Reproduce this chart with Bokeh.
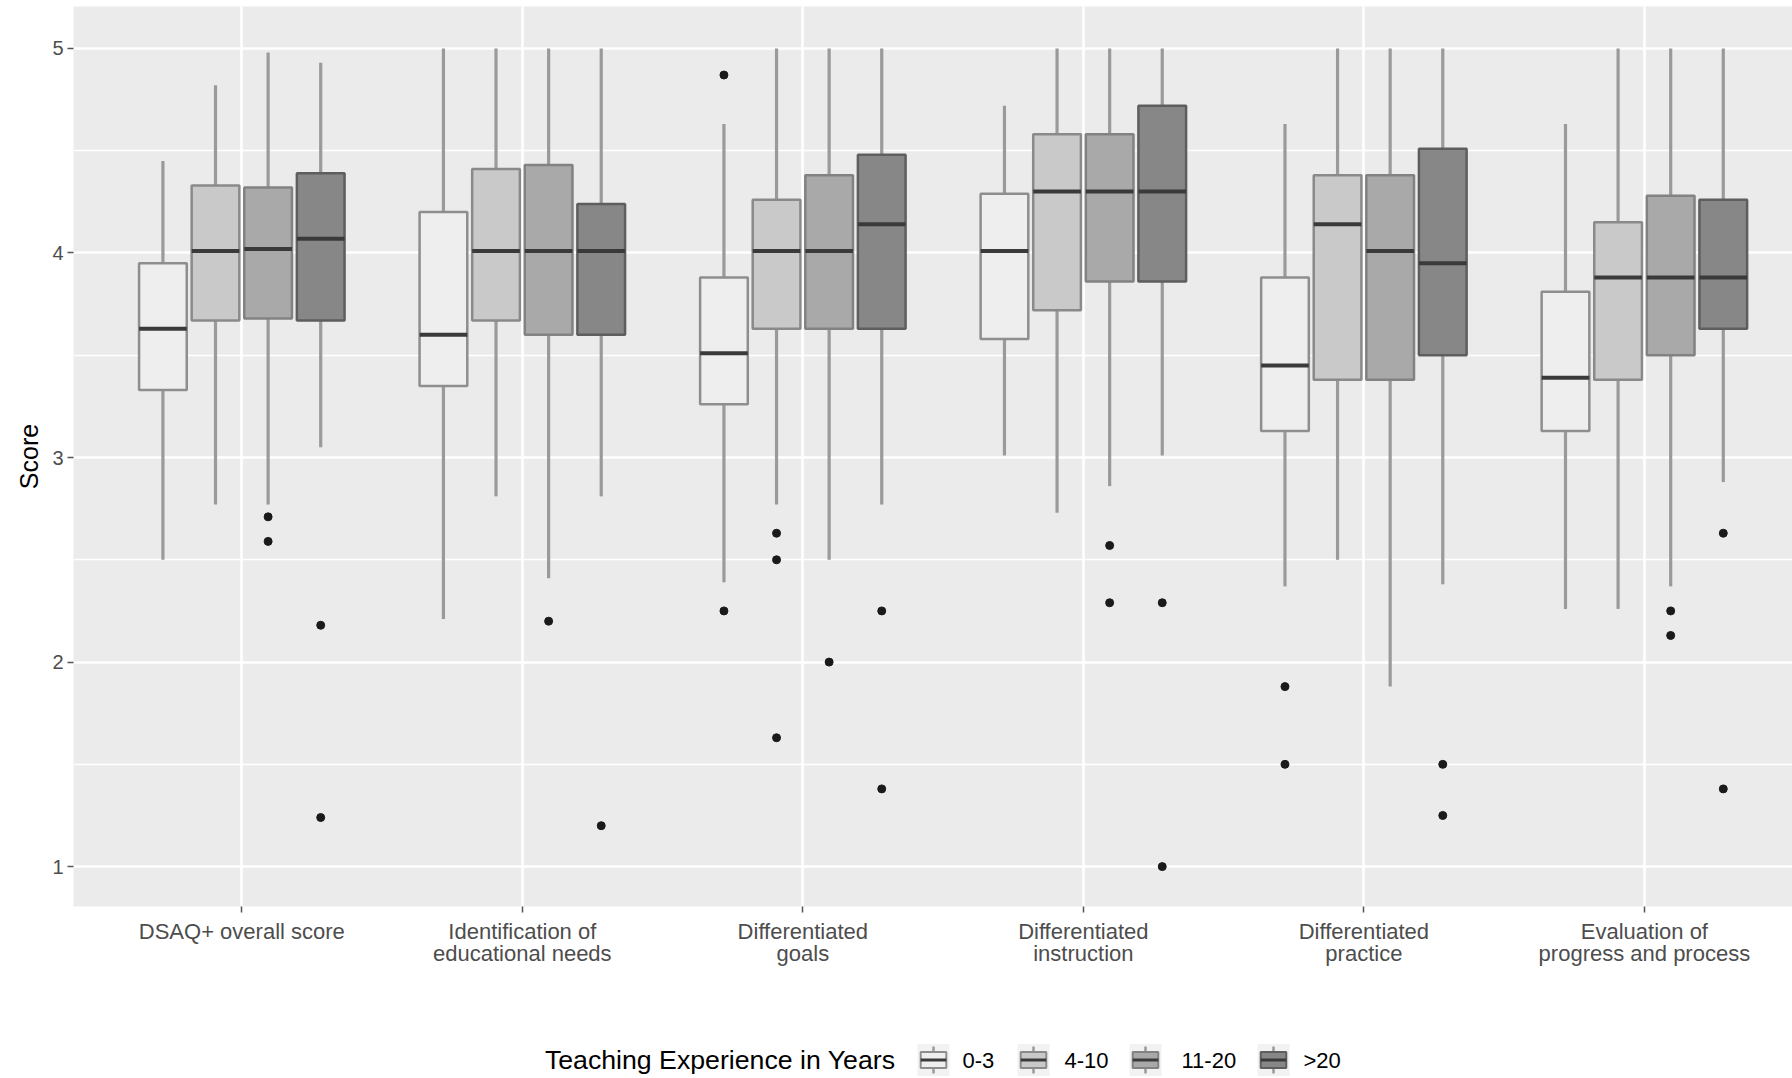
from bokeh.plotting import figure
from bokeh.models import FixedTicker, Range1d, ColumnDataSource
from bokeh.layouts import column
from bokeh.embed import file_html
from bokeh.resources import INLINE
from bokeh.core.properties import value

# ---------------- data ----------------
categories = ["DSAQ+ overall score",
              "Identification of\neducational needs",
              "Differentiated\ngoals",
              "Differentiated\ninstruction",
              "Differentiated\npractice",
              "Evaluation of\nprogress and process"]
groups = ["0-3", "4-10", "11-20", ">20"]

whisker_low = {
    "0-3":   [2.50, 2.21, 2.39, 3.01, 2.37, 2.26],
    "4-10":  [2.77, 2.81, 2.77, 2.73, 2.50, 2.26],
    "11-20": [2.77, 2.41, 2.50, 2.86, 1.88, 2.37],
    ">20":   [3.05, 2.81, 2.77, 3.01, 2.38, 2.88],
}
q1 = {
    "0-3":   [3.33, 3.35, 3.26, 3.58, 3.13, 3.13],
    "4-10":  [3.67, 3.67, 3.63, 3.72, 3.38, 3.38],
    "11-20": [3.68, 3.60, 3.63, 3.86, 3.38, 3.50],
    ">20":   [3.67, 3.60, 3.63, 3.86, 3.50, 3.63],
}
median = {
    "0-3":   [3.63, 3.60, 3.51, 4.01, 3.45, 3.39],
    "4-10":  [4.01, 4.01, 4.01, 4.30, 4.14, 3.88],
    "11-20": [4.02, 4.01, 4.01, 4.30, 4.01, 3.88],
    ">20":   [4.07, 4.01, 4.14, 4.30, 3.95, 3.88],
}
q3 = {
    "0-3":   [3.95, 4.20, 3.88, 4.29, 3.88, 3.81],
    "4-10":  [4.33, 4.41, 4.26, 4.58, 4.38, 4.15],
    "11-20": [4.32, 4.43, 4.38, 4.58, 4.38, 4.28],
    ">20":   [4.39, 4.24, 4.48, 4.72, 4.51, 4.26],
}
whisker_high = {
    "0-3":   [4.45, 5.00, 4.63, 4.72, 4.63, 4.63],
    "4-10":  [4.82, 5.00, 5.00, 5.00, 5.00, 5.00],
    "11-20": [4.98, 5.00, 5.00, 5.00, 5.00, 5.00],
    ">20":   [4.93, 5.00, 5.00, 5.00, 5.00, 5.00],
}
# outliers: category index, group name, value
outlier_cat   = [0, 0, 0, 0, 1, 1, 2, 2, 2, 2, 2, 2, 2, 2, 3, 3, 3, 3, 4, 4, 4, 4, 5, 5, 5, 5]
outlier_group = ["11-20", "11-20", ">20", ">20",
                 "11-20", ">20",
                 "0-3", "0-3", "4-10", "4-10", "4-10", "11-20", ">20", ">20",
                 "11-20", "11-20", ">20", ">20",
                 "0-3", "0-3", ">20", ">20",
                 "11-20", "11-20", ">20", ">20"]
outlier_value = [2.71, 2.59, 2.18, 1.24,
                 2.20, 1.20,
                 4.87, 2.25, 2.63, 2.50, 1.63, 2.00, 2.25, 1.38,
                 2.57, 2.29, 2.29, 1.00,
                 1.88, 1.50, 1.50, 1.25,
                 2.25, 2.13, 2.63, 1.38]
y_ticks = [1, 2, 3, 4, 5]

# ---------------- styles ----------------
fills = {"0-3": "#EEEEEE", "4-10": "#C9C9C9", "11-20": "#A9A9A9", ">20": "#878787"}
outlines = {"0-3": "#8E8E8E", "4-10": "#8A8A8A", "11-20": "#828282", ">20": "#5E5E5E"}
whisker_color = "#9A9A9A"
median_color = "#3A3A3A"
offsets = {"0-3": -0.28125, "4-10": -0.09375, "11-20": 0.09375, ">20": 0.28125}
box_w = 0.17
FONT = "Liberation Sans"
W = 1792
LEFT = 73

p = figure(width=W, height=1016,
           x_range=Range1d(0.4, 6.528), y_range=Range1d(0.805, 5.205),
           output_backend="svg", toolbar_location=None,
           min_border_left=LEFT, min_border_right=0, min_border_top=6, min_border_bottom=110)
p.background_fill_color = "#EBEBEB"
p.border_fill_color = "white"
p.outline_line_color = None

cat_pos = list(range(1, len(categories) + 1))
p.xaxis.ticker = FixedTicker(ticks=cat_pos)
p.xaxis.major_label_overrides = {c: lab for c, lab in zip(cat_pos, categories)}
p.yaxis.ticker = FixedTicker(ticks=y_ticks)
p.xgrid.ticker = FixedTicker(ticks=cat_pos)
p.ygrid.ticker = FixedTicker(ticks=y_ticks, minor_ticks=[1.5, 2.5, 3.5, 4.5])
for g in (p.xgrid, p.ygrid):
    g.grid_line_color = "white"
    g.grid_line_width = 2.6
p.ygrid.minor_grid_line_color = "white"
p.ygrid.minor_grid_line_width = 1.3

for ax in (p.xaxis, p.yaxis):
    ax.axis_line_color = None
    ax.major_tick_line_color = "#555555"
    ax.major_tick_line_width = 1.5
    ax.major_tick_out = 6
    ax.major_tick_in = 0
    ax.minor_tick_line_color = None
    ax.major_label_text_font = FONT
    ax.major_label_text_color = "#4D4D4D"
p.yaxis.major_label_text_font_size = "20px"
p.yaxis.major_label_standoff = 4
p.xaxis.major_label_text_font_size = "22px"
p.xaxis.major_label_text_line_height = 0.9
p.xaxis.major_label_standoff = 6
p.yaxis.axis_label = "Score"
p.yaxis.axis_label_text_font = FONT
p.yaxis.axis_label_text_font_size = "25px"
p.yaxis.axis_label_text_font_style = "normal"
p.yaxis.axis_label_text_color = "black"
p.yaxis.axis_label_standoff = 6

for g in groups:
    xs = [c + offsets[g] for c in cat_pos]
    src = ColumnDataSource(dict(
        x=xs, lo=whisker_low[g], q1=q1[g], med=median[g], q3=q3[g], hi=whisker_high[g],
        xl=[x - box_w / 2 for x in xs], xr=[x + box_w / 2 for x in xs]))
    p.segment(x0="x", y0="q3", x1="x", y1="hi", source=src, line_color=whisker_color, line_width=3.2)
    p.segment(x0="x", y0="lo", x1="x", y1="q1", source=src, line_color=whisker_color, line_width=3.2)
    p.vbar(x="x", width=box_w, bottom="q1", top="q3", source=src,
           fill_color=fills[g], line_color=outlines[g], line_width=2.5)
    p.segment(x0="xl", y0="med", x1="xr", y1="med", source=src, line_color=median_color, line_width=4)

ox = [outlier_cat[i] + 1 + offsets[outlier_group[i]] for i in range(len(outlier_value))]
p.scatter(ox, outlier_value, size=8, color="#1A1A1A")

# ---------------- legend ----------------
LH = 62
leg = figure(width=W, height=LH, x_range=Range1d(LEFT, W), y_range=Range1d(0, LH),
             output_backend="svg", toolbar_location=None, min_border=0)
leg.axis.visible = False
leg.grid.visible = False
leg.outline_line_color = None
leg.background_fill_color = "white"
leg.border_fill_color = "white"

yc = 18.5
leg.text(x=[895], y=[yc], text=["Teaching Experience in Years"], text_align="right",
         text_baseline="middle", text_font=value(FONT), text_font_size=value("26.7px"),
         text_color="black")
key_centers = [933, 1033, 1145, 1273]
label_starts = [962, 1064, 1181, 1303]
ks = 32
for g, kc, ls in zip(groups, key_centers, label_starts):
    leg.rect(x=[kc], y=[yc], width=ks, height=ks, fill_color="#F2F2F2", line_color=None)
    leg.segment(x0=[kc, kc], y0=[yc - 0.42 * ks, yc + 0.25 * ks], x1=[kc, kc],
                y1=[yc - 0.25 * ks, yc + 0.42 * ks], line_color=whisker_color, line_width=2.5)
    leg.rect(x=[kc], y=[yc], width=0.8 * ks, height=0.5 * ks, fill_color=fills[g],
             line_color=outlines[g], line_width=2)
    leg.segment(x0=[kc - 0.4 * ks], y0=[yc], x1=[kc + 0.4 * ks], y1=[yc],
                line_color=median_color, line_width=3)
    leg.text(x=[ls], y=[yc], text=[g], text_align="left", text_baseline="middle",
             text_font=value(FONT), text_font_size=value("22px"), text_color="black")

layout = column(p, leg, spacing=0)
open("out.html", "w").write(file_html(layout, INLINE))
